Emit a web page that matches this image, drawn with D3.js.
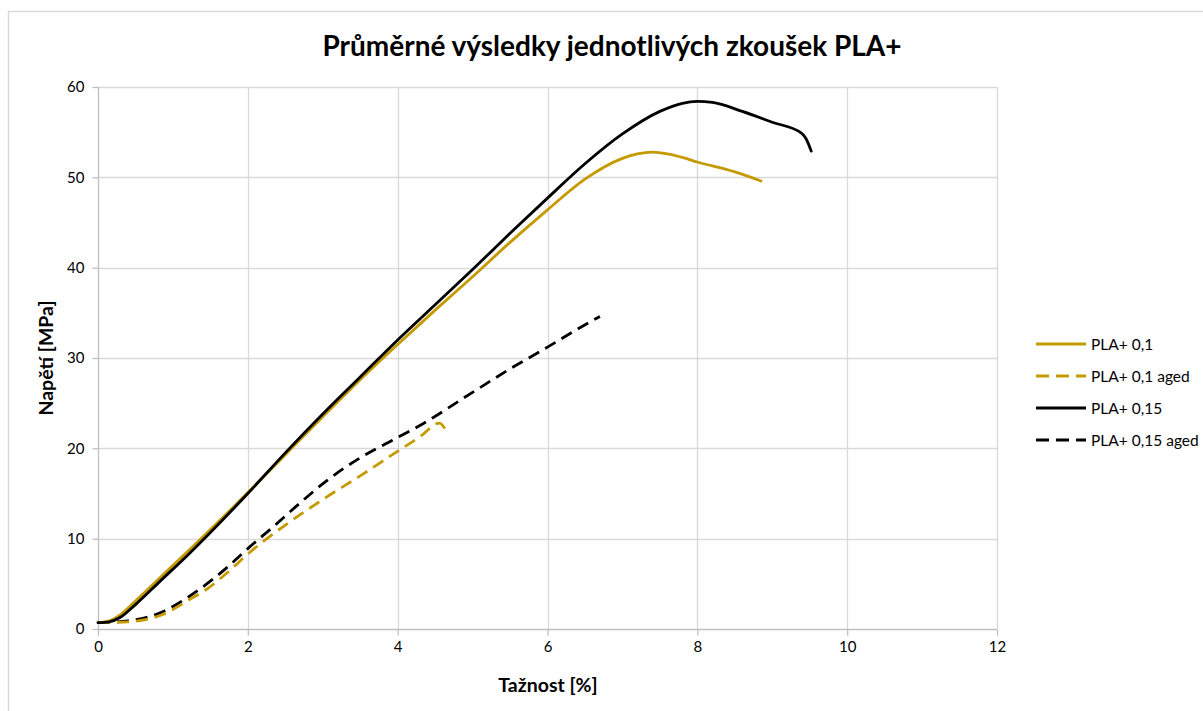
<!DOCTYPE html>
<html>
<head>
<meta charset="utf-8">
<script src="https://cdn.jsdelivr.net/npm/d3@7/dist/d3.min.js"></script>
<style>
  html, body { margin: 0; padding: 0; background: #fff; }
  svg { display: block; }
  text { font-family: Lato, "Open Sans", sans-serif; fill: #000; }
</style>
</head>
<body>
<svg id="chart" width="1203" height="711"></svg>
<script>
// ---- Data ----
const chartTitle = "Průměrné výsledky jednotlivých zkoušek PLA+";
const xTitle = "Tažnost [%]";
const yTitle = "Napětí [MPa]";
const xTicks = [0, 2, 4, 6, 8, 10, 12];
const yTicks = [0, 10, 20, 30, 40, 50, 60];
const seriesNames = ["PLA+ 0,1", "PLA+ 0,1 aged", "PLA+ 0,15", "PLA+ 0,15 aged"];
const seriesColors = ["#C49A00", "#C49A00", "#000000", "#000000"];
const seriesDashed = [false, true, false, true];

const pla01 = [[0,0.7],[0.15,0.9],[0.3,1.6],[0.5,3.1],[0.83,5.7],[1.2,8.6],[2,15.1],[2.5,19.3],[3,23.5],[3.5,27.6],[4,31.5],[4.5,35.3],[5,39.0],[5.5,42.8],[6,46.4],[6.5,49.8],[7,52.1],[7.2,52.6],[7.4,52.8],[7.6,52.6],[7.8,52.2],[8,51.7],[8.5,50.6],[8.85,49.6]];
const pla01aged = [[0,0.7],[0.4,0.8],[0.83,1.5],[1.27,3.5],[1.45,4.4],[1.72,6.2],[2,8.3],[2.16,9.4],[2.5,11.5],[3.05,14.6],[3.49,16.9],[3.93,19.3],[4.3,21.3],[4.56,22.8],[4.63,22.2]];
const pla015 = [[0,0.7],[0.15,0.8],[0.3,1.3],[0.5,2.7],[0.83,5.3],[1.2,8.2],[2,15.0],[2.5,19.5],[3,23.8],[3.5,27.9],[4,32.0],[4.5,35.9],[5,39.8],[5.5,43.8],[6,47.7],[6.5,51.5],[7,54.8],[7.5,57.3],[7.8,58.2],[8,58.4],[8.2,58.3],[8.6,57.3],[9,56.1],[9.39,54.9],[9.45,54.3],[9.52,52.9]];
const pla015aged = [[0,0.7],[0.4,0.9],[0.83,1.8],[1.27,3.9],[1.72,6.8],[2,8.9],[2.35,11.4],[2.69,13.9],[3.05,16.4],[3.49,18.9],[3.93,20.9],[4.29,22.5],[5,26.2],[5.5,28.8],[6,31.2],[6.4,33.2],[6.7,34.6]];
const seriesData = [pla01, pla01aged, pla015, pla015aged];

// ---- Layout ----
const svg = d3.select("#chart");
const plot = { left: 98, right: 997, top: 87, bottom: 629 };

const x = d3.scaleLinear().domain([0, 12]).range([plot.left, plot.right]);
const y = d3.scaleLinear().domain([0, 60]).range([plot.bottom, plot.top]);

// chart border
svg.append("rect").attr("x", 8.5).attr("y", 11.5).attr("width", 1300).attr("height", 800)
  .attr("fill", "#fff").attr("stroke", "#d9d9d9").attr("stroke-width", 1.5);

// gridlines
const grid = svg.append("g");
grid.selectAll("line.h").data(yTicks.filter(d => d > 0)).enter().append("line")
  .attr("x1", plot.left).attr("x2", plot.right)
  .attr("y1", d => Math.round(y(d)) + 0.5).attr("y2", d => Math.round(y(d)) + 0.5)
  .attr("stroke", "#d9d9d9").attr("stroke-width", 1.3);
grid.selectAll("line.v").data(xTicks.filter(d => d > 0)).enter().append("line")
  .attr("y1", plot.top).attr("y2", plot.bottom)
  .attr("x1", d => Math.round(x(d)) + 0.5).attr("x2", d => Math.round(x(d)) + 0.5)
  .attr("stroke", "#d9d9d9").attr("stroke-width", 1.3);

// axes
const xAxis = d3.axisBottom(x).tickValues(xTicks).tickSize(6).tickPadding(6).tickFormat(d3.format("d"));
const yAxis = d3.axisLeft(y).tickValues(yTicks).tickSize(6).tickPadding(8).tickFormat(d3.format("d"));
const gx = svg.append("g").attr("transform", `translate(0,${Math.round(y(0)) + 0.5})`).call(xAxis);
const gy = svg.append("g").attr("transform", `translate(${Math.round(x(0)) + 0.5},0)`).call(yAxis);
[gx, gy].forEach(g => {
  g.select(".domain").attr("stroke", "#bfbfbf").attr("stroke-width", 1.3);
  g.selectAll(".tick line").attr("stroke", "#bfbfbf").attr("stroke-width", 1.3);
  g.selectAll(".tick text").attr("font-size", 15).attr("font-family", "Lato, 'Open Sans', sans-serif").attr("fill", "#000");
});
gx.select(".domain").attr("d", `M${plot.left},0H${plot.right}`);
gy.select(".domain").attr("d", `M0,${plot.top}V${plot.bottom}`);

// lines
const line = d3.line().x(d => x(d[0])).y(d => y(d[1])).curve(d3.curveMonotoneX);
const drawOrder = [3, 1, 0, 2];
drawOrder.forEach(i => {
  svg.append("path").datum(seriesData[i])
    .attr("d", line)
    .attr("fill", "none")
    .attr("stroke", seriesColors[i])
    .attr("stroke-width", 2.8)
    .attr("stroke-linejoin", "round")
    .attr("stroke-linecap", seriesDashed[i] ? "butt" : "round")
    .attr("stroke-dasharray", seriesDashed[i] ? "12,7" : null);
});

// title
svg.append("text").attr("x", 612).attr("y", 56).attr("text-anchor", "middle")
  .attr("font-size", 28).attr("font-weight", "bold").text(chartTitle);

// axis titles
svg.append("text").attr("x", 548).attr("y", 692).attr("text-anchor", "middle")
  .attr("font-size", 19.5).attr("font-weight", "bold").text(xTitle);
svg.append("text").attr("transform", `translate(53,358) rotate(-90)`)
  .attr("text-anchor", "middle").attr("font-size", 19.5).attr("font-weight", "bold").text(yTitle);

// legend
const legend = svg.append("g");
const legY = [344, 376, 408, 440];
seriesNames.forEach((name, i) => {
  legend.append("line").attr("x1", 1036).attr("x2", 1086)
    .attr("y1", legY[i]).attr("y2", legY[i])
    .attr("stroke", seriesColors[i]).attr("stroke-width", 2.8)
    .attr("stroke-dasharray", seriesDashed[i] ? "13,7" : null);
  legend.append("text").attr("x", 1091).attr("y", legY[i] + 5.5)
    .attr("font-size", 15.5).text(name);
});
</script>
</body>
</html>
